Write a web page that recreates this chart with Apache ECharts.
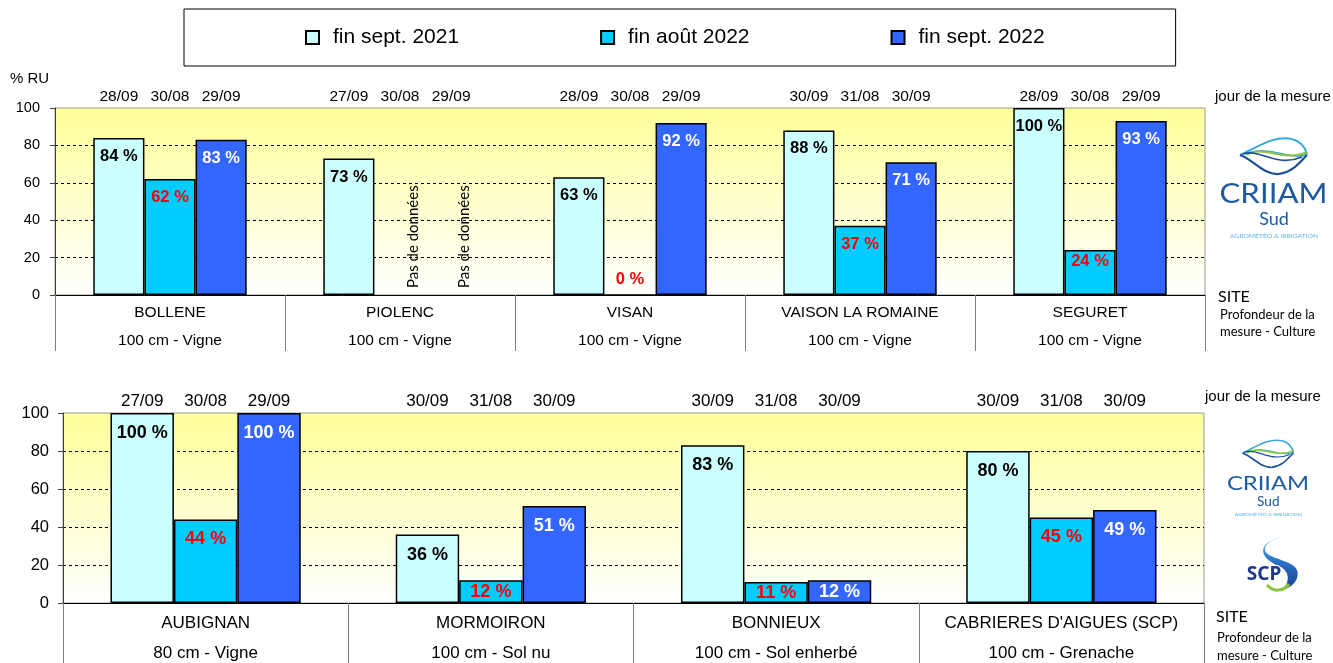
<!DOCTYPE html>
<html>
<head>
<meta charset="utf-8">
<script src="https://cdn.jsdelivr.net/npm/echarts@6/dist/echarts.min.js"></script>
<style>html,body{margin:0;padding:0;background:#fff}#c{width:1333px;height:663px}</style>
</head>
<body>
<div id="c"></div>
<script>
// ---------- DATA ----------
const seriesNames = ['fin sept. 2021', 'fin août 2022', 'fin sept. 2022'];

const topSites   = ['BOLLENE', 'PIOLENC', 'VISAN', 'VAISON LA ROMAINE', 'SEGURET'];
const topDetails = ['100 cm - Vigne', '100 cm - Vigne', '100 cm - Vigne', '100 cm - Vigne', '100 cm - Vigne'];
const topSept2021 = [84, 73, 63, 88, 100];
const topAout2022 = [62, null, 0, 37, 24];
const topSept2022 = [83, null, 92, 71, 93];
const topDatesSept2021 = ['28/09', '27/09', '28/09', '30/09', '28/09'];
const topDatesAout2022 = ['30/08', '30/08', '30/08', '31/08', '30/08'];
const topDatesSept2022 = ['29/09', '29/09', '29/09', '30/09', '29/09'];

const botSites   = ['AUBIGNAN', 'MORMOIRON', 'BONNIEUX', "CABRIERES D'AIGUES (SCP)"];
const botDetails = ['80 cm - Vigne', '100 cm - Sol nu', '100 cm - Sol enherbé', '100 cm - Grenache'];
const botSept2021 = [100, 36, 83, 80];
const botAout2022 = [44, 12, 11, 45];
const botSept2022 = [100, 51, 12, 49];
const botDatesSept2021 = ['27/09', '30/09', '30/09', '30/09'];
const botDatesAout2022 = ['30/08', '31/08', '31/08', '31/08'];
const botDatesSept2022 = ['29/09', '30/09', '30/09', '30/09'];

const yMin = 0, yMax = 100, yStep = 20;
const noDataText = 'Pas de données';
const yAxisTitle = '% RU';
const dateCaption = 'jour de la mesure';
const siteCaption = 'SITE';
const siteCaption2 = ['Profondeur de la', 'mesure - Culture'];

// ---------- STYLE ----------
const ARIAL = 'Liberation Sans';
const barColors = ['#CCFFFF', '#00CCFF', '#3366FF'];
const labelColors = ['#000000', '#FF0000', '#FFFFFF'];

function makeSeries(g, sIdx, values, dates, cats, cfg) {
  return {
    type: 'bar',
    name: seriesNames[sIdx],
    xAxisIndex: g, yAxisIndex: g,
    barGap: '0%',
    barCategoryGap: '33.3%',
    itemStyle: { color: barColors[sIdx], borderColor: '#000', borderWidth: 1.5 },
    label: {
      show: true, position: 'insideTop', distance: cfg.labelDist,
      formatter: p => p.value + ' %',
      color: labelColors[sIdx], fontFamily: ARIAL, fontWeight: 'bold', fontSize: cfg.valueFont
    },
    data: values.map(v => {
      if (v === null) {
        return {
          value: 0, itemStyle: { borderWidth: 0 },
          label: {
            rotate: 90, position: 'insideBottom', distance: 7, align: 'left', verticalAlign: 'middle',
            offset: [0, 13],
            formatter: noDataText, color: '#000', fontWeight: 'normal', fontFamily: 'Lato', fontSize: 15
          }
        };
      }
      if (v === 0) return { value: 0, label: { position: 'top', distance: 6 } };
      if (v < 15) return { value: v, label: { position: 'inside' } };
      if (v < 30) return { value: v, label: { distance: 3 } };
      return v;
    }),
    markPoint: {
      symbol: 'circle', symbolSize: 0, silent: true,
      itemStyle: { color: 'rgba(0,0,0,0)' },
      label: {
        show: true, position: 'top', distance: 3, formatter: p => p.name,
        color: '#000', fontFamily: ARIAL, fontSize: cfg.dateFont
      },
      data: dates.map((d, i) => ({ name: d, coord: [cats[i], yMax] }))
    }
  };
}

const bgGradient = {
  type: 'linear', x: 0, y: 0, x2: 0, y2: 1,
  colorStops: [{ offset: 0, color: '#FFFF99' }, { offset: 1, color: '#FFFFFF' }]
};

function xAxisCfg(g, cats, details, fs, lh, margin, tickLen) {
  return {
    gridIndex: g, type: 'category', data: cats,
    axisLine: { lineStyle: { color: '#000', width: 1 } },
    axisTick: { show: true, length: tickLen, lineStyle: { color: '#7f7f7f', width: 1 } },
    axisLabel: {
      interval: 0, margin: margin,
      formatter: (v, i) => '{n|' + v + '}\n{d|' + details[i] + '}',
      rich: {
        n: { fontFamily: ARIAL, fontSize: fs, lineHeight: lh, color: '#000' },
        d: { fontFamily: ARIAL, fontSize: fs, lineHeight: lh, color: '#000' }
      }
    }
  };
}
function yAxisCfg(g, fs, margin) {
  return {
    gridIndex: g, type: 'value', min: yMin, max: yMax, interval: yStep,
    axisLine: { show: true, lineStyle: { color: '#404040', width: 1 } },
    axisTick: { show: true, length: 5, lineStyle: { color: '#404040' } },
    axisLabel: { color: '#000', fontFamily: ARIAL, fontSize: fs, margin: margin },
    splitLine: { show: true, showMinLine: false, showMaxLine: false, lineStyle: { color: '#000', type: [3, 3], width: 1 } }
  };
}

// ---------- LOGOS (decoration) ----------
function bez(x1, y1, cx1, cy1, cx2, cy2, x2, y2, color, w) {
  return { type: 'bezierCurve', shape: { x1, y1, cpx1: cx1, cpy1: cy1, cpx2: cx2, cpy2: cy2, x2, y2 },
           style: { stroke: color, lineWidth: w, fill: null } };
}
function criiam(x, y, s) {
  const lb = '#3aa7df', gr = '#8cc63f', db = '#1d4f95';
  return {
    type: 'group', x: x, y: y, scaleX: s, scaleY: s, silent: true,
    children: [
      bez(0, 17, 18, 9, 34, -3, 52, 1, lb, 2),
      bez(52, 1, 60, 3, 65, 9, 67, 16, lb, 2),
      bez(67, 16, 52, 24, 30, 6, 6, 16, lb, 1.6),
      bez(6, 17, 24, 6, 44, 25, 67, 14, gr, 2),
      bez(0, 17, 14, 22, 24, 37, 38, 36, db, 2.2),
      bez(38, 36, 52, 35, 60, 24, 67, 17, db, 2.2),
      bez(3, 16, 20, 10, 36, 30, 62, 19, db, 1.6),
      { type: 'text', x: 33.5, y: 57, scaleX: 1.2,
        style: { text: 'CRIIAM', font: '400 26px Lato', fill: '#1f5aa0', align: 'center', verticalAlign: 'middle' } },
      { type: 'text', x: 34, y: 81,
        style: { text: 'Sud', font: '400 18px Lato', fill: '#1f5aa0', align: 'center', verticalAlign: 'middle' } },
      { type: 'text', x: 34, y: 98, scaleX: 1.35,
        style: { text: 'AGROMÉTÉO & IRRIGATION', font: '400 5px Lato', fill: '#5ab4e5', align: 'center', verticalAlign: 'middle' } }
    ]
  };
}
function sampleBezierPath(segs, steps) {
  const pts = [];
  segs.forEach(s => {
    const [x0, y0, x1, y1, x2, y2, x3, y3] = s;
    for (let i = 0; i <= steps; i++) {
      const t = i / steps, u = 1 - t;
      pts.push([u*u*u*x0 + 3*u*u*t*x1 + 3*u*t*t*x2 + t*t*t*x3,
                u*u*u*y0 + 3*u*u*t*y1 + 3*u*t*t*y2 + t*t*t*y3]);
    }
  });
  return pts;
}
function scp(x, y) {
  const pts = sampleBezierPath([
    [40, 0, 22, 6, 16, 14, 28, 20],
    [28, 20, 44, 27, 58, 28, 54, 42],
    [54, 42, 52, 48, 46, 52, 40, 54],
    [40, 54, 46, 46, 48, 36, 36, 30],
    [36, 30, 20, 24, 14, 12, 28, 5],
    [28, 5, 32, 3, 36, 1, 40, 0]
  ], 12);
  return {
    type: 'group', x: x, y: y, silent: true,
    children: [
      { type: 'polygon', shape: { points: pts },
        style: { fill: { type: 'linear', x: 0, y: 0, x2: 0, y2: 1,
          colorStops: [{ offset: 0, color: '#4db5ea' }, { offset: 0.5, color: '#2a6fc4' }, { offset: 1, color: '#1b3f93' }] } } },
      bez(24, 49, 30, 56, 40, 56, 46, 48, '#8cc63f', 3),
      { type: 'text', x: 21, y: 39,
        style: { text: 'SCP', font: 'bold 19px "Noto Sans"', fill: '#1c3a8c', align: 'center', verticalAlign: 'middle',
                 stroke: '#fff', lineWidth: 2 } }
    ]
  };
}
function txt(x, y, text, font, align) {
  return { type: 'text', x: x, y: y, silent: true,
           style: { text: text, font: font, fill: '#000', align: align || 'left', verticalAlign: 'middle' } };
}

// ---------- CHART ----------
const chart = echarts.init(document.getElementById('c'), null, { renderer: 'canvas' });
const topCfg = { valueFont: 16.5, labelDist: 10, dateFont: 15.5 };
const botCfg = { valueFont: 18, labelDist: 11, dateFont: 17 };

chart.setOption({
  animation: false,
  backgroundColor: '#fff',
  legend: {
    left: 184, top: 9,
    padding: [18, 131, 18, 121],
    itemGap: 141, itemWidth: 13, itemHeight: 13, icon: 'rect',
    borderColor: '#000', borderWidth: 1, backgroundColor: '#fff',
    textStyle: { fontFamily: ARIAL, fontSize: 21, color: '#000', padding: [0, 0, 0, 9] },
    data: seriesNames
  },
  grid: [
    { left: 55, top: 108, width: 1150, height: 187, show: true, backgroundColor: bgGradient, borderColor: '#999', borderWidth: 1 },
    { left: 63, top: 413, width: 1141, height: 190, show: true, backgroundColor: bgGradient, borderColor: '#999', borderWidth: 1 }
  ],
  xAxis: [
    xAxisCfg(0, topSites, topDetails, 15.5, 28, 4, 56),
    xAxisCfg(1, botSites, botDetails, 17, 30, 5, 62)
  ],
  yAxis: [yAxisCfg(0, 14.5, 15), yAxisCfg(1, 16.5, 14)],
  series: [
    makeSeries(0, 0, topSept2021, topDatesSept2021, topSites, topCfg),
    makeSeries(0, 1, topAout2022, topDatesAout2022, topSites, topCfg),
    makeSeries(0, 2, topSept2022, topDatesSept2022, topSites, topCfg),
    makeSeries(1, 0, botSept2021, botDatesSept2021, botSites, botCfg),
    makeSeries(1, 1, botAout2022, botDatesAout2022, botSites, botCfg),
    makeSeries(1, 2, botSept2022, botDatesSept2022, botSites, botCfg)
  ],
  graphic: [
    txt(10, 79, yAxisTitle, '15px "Liberation Sans"'),
    txt(1215, 97, dateCaption, '15px "Liberation Sans"'),
    txt(1218, 297, siteCaption, '16px Lato'),
    txt(1220, 315, siteCaption2[0], '13px Lato'),
    txt(1220, 332, siteCaption2[1], '13px Lato'),
    txt(1205, 397, dateCaption, '15px "Liberation Sans"'),
    txt(1216, 617, siteCaption, '16px Lato'),
    txt(1217, 638, siteCaption2[0], '13px Lato'),
    txt(1217, 656, siteCaption2[1], '13px Lato'),
    criiam(1240, 138, 1.0),
    criiam(1242.5, 440, 0.76),
    scp(1243, 536)
  ]
});
</script>
</body>
</html>
